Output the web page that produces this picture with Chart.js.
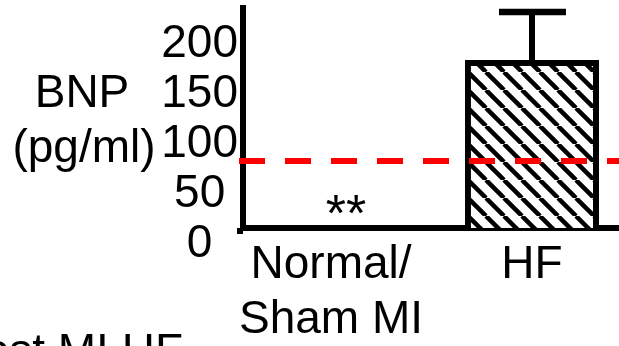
<!DOCTYPE html>
<html>
<head>
<meta charset="utf-8">
<script src="https://cdn.jsdelivr.net/npm/chart.js@4"></script>
<style>
  html, body { margin: 0; padding: 0; background: #fff; overflow: hidden; }
  #wrap { width: 619px; height: 346px; }
</style>
</head>
<body>
<div id="wrap"><canvas id="myChart"></canvas></div>
<script>
  // data
  const groups = [['Normal/', 'Sham MI'], 'HF'];
  const groupPos = [0, 1];
  const bnpMean = [10, 184];
  const bnpErrTop = [null, 232];
  const marks = ['**', ''];
  const cutoff = 83;
  const yTicks = [0, 50, 100, 150, 200];
  const yTitle = ['BNP', '(pg/ml)'];
  const footText = 'Post MI HF';

  const FONT = '"Liberation Sans", Arial, sans-serif';

  function hatch() {
    const s = 18;
    const c = document.createElement('canvas');
    c.width = s; c.height = s;
    const g = c.getContext('2d');
    g.fillStyle = '#fff';
    g.fillRect(0, 0, s, s);
    g.strokeStyle = '#000';
    g.lineWidth = 4.5;
    for (const x0 of [-s, 0, s]) {
      g.beginPath();
      g.moveTo(x0, 0);
      g.lineTo(x0 + s, s);
      g.stroke();
    }
    return g.createPattern(c, 'repeat');
  }

  const extras = {
    id: 'extras',
    afterDatasetsDraw(chart) {
      const { ctx, chartArea, scales: { x, y } } = chart;
      ctx.save();

      // axis corner
      ctx.fillStyle = '#000';
      ctx.fillRect(chartArea.left - 6, chartArea.bottom, 6, 6);

      // error bars
      ctx.strokeStyle = '#000';
      bnpErrTop.forEach((e, i) => {
        if (e == null) return;
        const px = x.getPixelForValue(groupPos[i]);
        const top = y.getPixelForValue(e);
        const base = y.getPixelForValue(bnpMean[i]);
        ctx.lineWidth = 6;
        ctx.beginPath();
        ctx.moveTo(px, base + 3);
        ctx.lineTo(px, top);
        ctx.stroke();
        ctx.lineWidth = 6.5;
        ctx.beginPath();
        ctx.moveTo(px - 33, top);
        ctx.lineTo(px + 34, top);
        ctx.stroke();
      });

      // cutoff line
      const yc = y.getPixelForValue(cutoff);
      ctx.strokeStyle = '#ff0000';
      ctx.lineWidth = 6;
      ctx.setLineDash([26, 20]);
      ctx.beginPath();
      ctx.moveTo(chartArea.left - 4, yc);
      ctx.lineTo(chart.width, yc);
      ctx.stroke();
      ctx.setLineDash([]);

      // text
      ctx.fillStyle = '#000';
      ctx.font = '46px ' + FONT;
      ctx.textBaseline = 'alphabetic';
      ctx.textAlign = 'center';
      ctx.fillText(yTitle[0], 82, 107);
      ctx.fillText(yTitle[1], 84, 162);

      ctx.font = '52px ' + FONT;
      marks.forEach((m, i) => {
        if (!m) return;
        ctx.fillText(m, x.getPixelForValue(groupPos[i]) + 15, chartArea.bottom + 3);
      });

      ctx.font = '46px ' + FONT;
      ctx.textAlign = 'right';
      ctx.fillText(footText, 183, 366);
      ctx.restore();
    }
  };

  const data = {
    datasets: [{
      data: groupPos.map((p, i) => ({ x: p, y: bnpMean[i] })),
      backgroundColor: hatch(),
      borderColor: '#000',
      borderWidth: 6,
      borderSkipped: false,
      barPercentage: 0.667,
      categoryPercentage: 1,
      clip: 0
    }]
  };

  const config = {
    type: 'bar',
    data: data,
    options: {
      responsive: true,
      maintainAspectRatio: false,
      animation: false,
      layout: { padding: { left: 159, top: 8, right: 0, bottom: 0 } },
      plugins: {
        legend: { display: false },
        tooltip: { enabled: false }
      },
      scales: {
        x: {
          type: 'linear',
          min: -0.438,
          max: 1.433,
          offset: false,
          grid: { display: false, drawTicks: false },
          border: { display: true, color: '#000', width: 6 },
          afterBuildTicks: (a) => { a.ticks = groupPos.map(v => ({ value: v })); },
          afterFit: (a) => { a.height = 118; a.paddingLeft = 0; a.paddingRight = 0; },
          ticks: {
            autoSkip: false,
            minRotation: 0,
            maxRotation: 0,
            padding: 10,
            color: '#000',
            font: { family: FONT, size: 46, lineHeight: 1.2 },
            callback: (v, i) => groups[i]
          }
        },
        y: {
          min: 16,
          max: 236,
          grid: { display: false, drawTicks: false },
          border: { display: true, color: '#000', width: 6 },
          afterBuildTicks: (a) => { a.ticks = yTicks.map(v => ({ value: v })); },
          afterFit: (a) => { a.width = 84; a.paddingTop = 0; a.paddingBottom = 0; },
          ticks: {
            autoSkip: false,
            crossAlign: 'center',
            padding: 5,
            color: '#000',
            font: { family: FONT, size: 46, lineHeight: 1.2 }
          }
        }
      }
    },
    plugins: [extras]
  };

  const myChart = new Chart(document.getElementById('myChart'), config);
</script>
</body>
</html>
